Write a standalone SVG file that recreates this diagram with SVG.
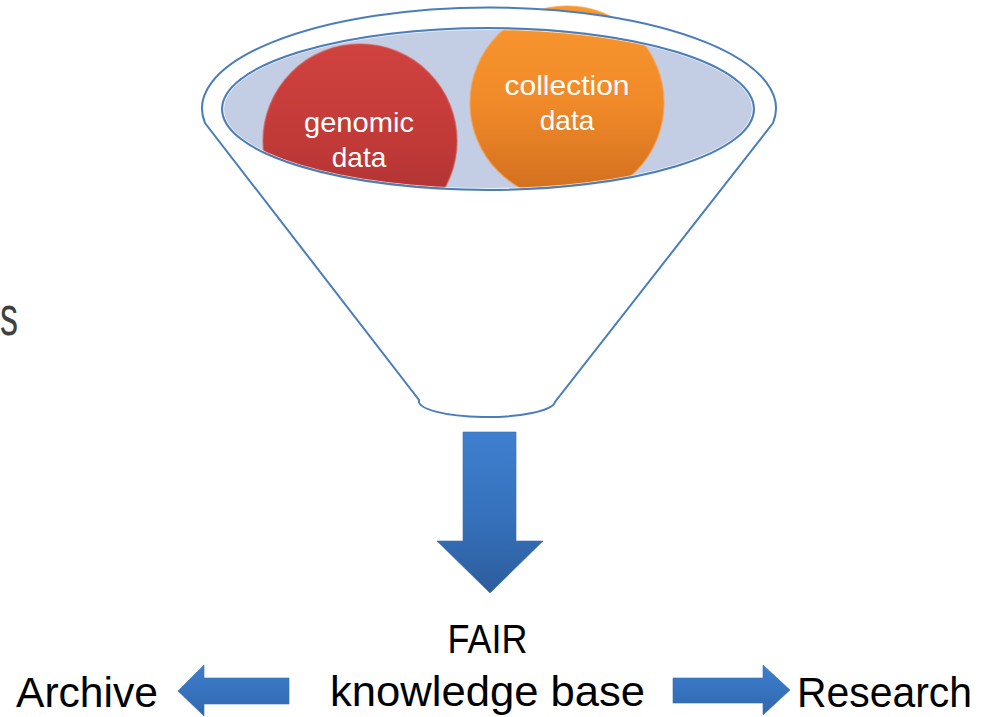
<svg xmlns="http://www.w3.org/2000/svg" width="986" height="717" viewBox="0 0 986 717">
  <style>
    .lbl { font-family: "Liberation Sans", Arial, sans-serif; fill: #000000; }
    .circ { font-family: "Liberation Sans", Arial, sans-serif; fill: #ffffff; font-size: 28px; text-anchor: middle; }
    .arrow { stroke: #3a6fb0; stroke-width: 1; stroke-opacity: 0.6; }
    .funnel { stroke: #4a7ebb; stroke-width: 2; fill: none; }
  </style>
  <defs>
    <linearGradient id="gRed" x1="0" y1="0" x2="0" y2="1">
      <stop offset="0" stop-color="#d0423f"/>
      <stop offset="0.5" stop-color="#c13a38"/>
      <stop offset="1" stop-color="#a52f30"/>
    </linearGradient>
    <linearGradient id="gOrange" x1="0" y1="0" x2="0" y2="1">
      <stop offset="0" stop-color="#f9972f"/>
      <stop offset="0.5" stop-color="#f08a29"/>
      <stop offset="1" stop-color="#d06d1e"/>
    </linearGradient>
    <linearGradient id="gBlue" x1="0" y1="0" x2="0" y2="1">
      <stop offset="0" stop-color="#3f80cf"/>
      <stop offset="0.5" stop-color="#3672bd"/>
      <stop offset="1" stop-color="#2c5d9c"/>
    </linearGradient>
    <linearGradient id="gBlueH" x1="0" y1="0" x2="0" y2="1">
      <stop offset="0" stop-color="#3e7ecd"/>
      <stop offset="1" stop-color="#3067ae"/>
    </linearGradient>
  </defs>

  <!-- lone letter at left edge -->
  <text x="0" y="335" font-family="Liberation Sans, Arial, sans-serif" font-size="56" fill="#404040" textLength="18" lengthAdjust="spacingAndGlyphs">s</text>

  <g id="funnel">
    <ellipse cx="488" cy="109" rx="266" ry="81" fill="#c3cde3"/>
    <g id="genomic">
      <circle cx="360" cy="141" r="97" fill="url(#gRed)" stroke="#d65a58" stroke-width="1.5" stroke-opacity="0.6"/>
      <text class="circ" x="359" y="132" textLength="110" lengthAdjust="spacingAndGlyphs">genomic</text>
      <text class="circ" x="359" y="167">data</text>
    </g>
    <g id="collection">
      <circle cx="567" cy="103" r="97" fill="url(#gOrange)" stroke="#fba04a" stroke-width="1.5" stroke-opacity="0.6"/>
      <text class="circ" x="567" y="95" textLength="125" lengthAdjust="spacingAndGlyphs">collection</text>
      <text class="circ" x="567" y="130">data</text>
    </g>
    <path d="M 205,123 A 287 101 0 1 1 773,123 L 555,402 A 68 16 0 0 1 419,400 Z M 222,109 A 266 81 0 1 0 754,109 A 266 81 0 1 0 222,109 Z"
          fill="#ffffff" fill-rule="evenodd" stroke="none"/>
    <path class="funnel" d="M 205,123 A 287 101 0 1 1 773,123 L 555,402 A 68 16 0 0 1 419,400 Z"/>
    <ellipse cx="488" cy="109" rx="264.5" ry="79.5" fill="none" stroke="#ffffff" stroke-width="1" stroke-opacity="0.7"/>
    <ellipse class="funnel" cx="488" cy="109" rx="266" ry="81"/>
  </g>

  <g id="connectors">
    <polygon class="arrow" fill="url(#gBlue)" points="463,432 516,432 516,541 543,541 490,593 437,541 463,541"/>
    <polygon class="arrow" fill="url(#gBlueH)" points="289,678 204,678 204,665 178,691 204,716 204,704 289,704"/>
    <polygon class="arrow" fill="url(#gBlueH)" points="673,678 763,678 763,665 790,690 763,715 763,703 673,703"/>
  </g>

  <g id="fair">
    <text class="lbl" x="487.5" y="653" font-size="40" text-anchor="middle" textLength="80" lengthAdjust="spacingAndGlyphs">FAIR</text>
    <text class="lbl" x="487.5" y="706" font-size="42" text-anchor="middle" textLength="315" lengthAdjust="spacingAndGlyphs">knowledge base</text>
  </g>
  <g id="archive">
    <text class="lbl" x="16" y="707" font-size="42" textLength="142" lengthAdjust="spacingAndGlyphs">Archive</text>
  </g>
  <g id="research">
    <text class="lbl" x="797" y="707" font-size="42" textLength="175" lengthAdjust="spacingAndGlyphs">Research</text>
  </g>
</svg>
